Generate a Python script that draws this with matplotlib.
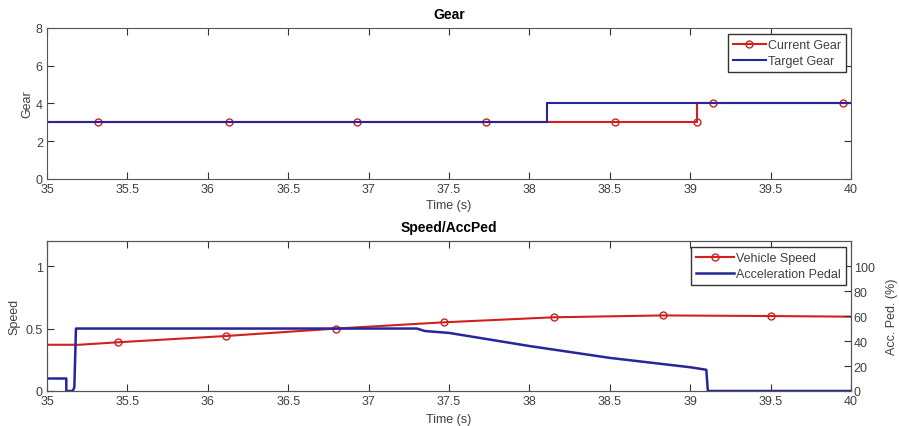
import matplotlib.pyplot as plt

plt.rcParams['font.family'] = ['Liberation Sans', 'DejaVu Sans']

# Gear data (step signals)
cur_gear_t = [35.0, 39.04, 39.04, 40.0]
cur_gear = [3, 3, 4, 4]
cur_gear_mark_t = [35.32, 36.13, 36.93, 37.73, 38.53, 39.04, 39.14, 39.95]
cur_gear_mark = [3, 3, 3, 3, 3, 3, 4, 4]
tgt_gear_t = [35.0, 38.11, 38.11, 40.0]
tgt_gear = [3, 3, 4, 4]

# Vehicle speed
speed_t = [35.0, 35.2, 35.44, 36.11, 36.8, 37.47, 38.15, 38.83, 39.5, 40.0]
speed = [0.37, 0.37, 0.39, 0.44, 0.50, 0.55, 0.59, 0.605, 0.60, 0.595]
speed_mark_t = [35.44, 36.11, 36.8, 37.47, 38.15, 38.83, 39.5]
speed_mark = [0.39, 0.44, 0.50, 0.55, 0.59, 0.605, 0.60]

# Acceleration pedal (%)
ped_t = [35.0, 35.12, 35.12, 35.16, 35.17, 35.18, 37.3, 37.35, 37.5, 38.0, 38.5, 39.0, 39.1, 39.11, 40.0]
ped = [10, 10, 0, 0, 3, 50, 50, 48, 46.5, 36, 26.5, 19, 17, 0, 0]

red = '#d02020'
blue = '#26269a'
txt = '#404040'
xticks = [35, 35.5, 36, 36.5, 37, 37.5, 38, 38.5, 39, 39.5, 40]
xlabels = ['35', '35.5', '36', '36.5', '37', '37.5', '38', '38.5', '39', '39.5', '40']

fig = plt.figure(figsize=(8.99, 4.27), dpi=100)
ax1 = fig.add_axes([0.0523, 0.5785, 0.8943, 0.3536])
ax2 = fig.add_axes([0.0523, 0.082, 0.8943, 0.351])

# top: gear
ax1.plot(cur_gear_t, cur_gear, color=red, lw=1.5)
ax1.plot(cur_gear_mark_t, cur_gear_mark, 'o', color=red, mfc='none', ms=5, mew=1)
ax1.plot(tgt_gear_t, tgt_gear, color=blue, lw=1.5)
ax1.plot([], [], '-o', color=red, mfc='none', ms=5, lw=1.5, label='Current Gear')
ax1.plot([], [], color=blue, lw=1.5, label='Target Gear')
ax1.set_xlim(35, 40)
ax1.set_ylim(0, 8)
ax1.set_yticks([0, 2, 4, 6, 8])
ax1.set_xticks(xticks)
ax1.set_xticklabels(xlabels)
ax1.set_title('Gear', fontsize=10, fontweight='bold', pad=7)
ax1.set_xlabel('Time (s)', fontsize=9, color=txt, labelpad=3)
ax1.set_ylabel('Gear', fontsize=9, color=txt, labelpad=2)
leg1 = ax1.legend(loc='upper right', bbox_to_anchor=(0.994, 0.96), borderaxespad=0, fontsize=9,
                  fancybox=False, framealpha=1, edgecolor='#333333', borderpad=0.4,
                  handlelength=2.6, handletextpad=0.2, labelspacing=0.35)
for t in leg1.get_texts():
    t.set_color(txt)

# bottom: speed / pedal
ax2.plot(speed_t, speed, color=red, lw=1.5)
ax2.plot(speed_mark_t, speed_mark, 'o', color=red, mfc='none', ms=5, mew=1)
ax2.set_xlim(35, 40)
ax2.set_ylim(0, 1.2)
ax2.set_yticks([0, 0.5, 1])
ax2.set_yticklabels(['0', '0.5', '1'])
ax2.set_xticks(xticks)
ax2.set_xticklabels(xlabels)
ax2.set_title('Speed/AccPed', fontsize=10, fontweight='bold', pad=7)
ax2.set_xlabel('Time (s)', fontsize=9, color=txt, labelpad=4)
ax2.set_ylabel('Speed', fontsize=9, color=txt, labelpad=4)

ax3 = ax2.twinx()
ax3.plot(ped_t, ped, color=blue, lw=1.8)
ax3.set_ylim(0, 120)
ax3.set_yticks([0, 20, 40, 60, 80, 100])
ax3.set_ylabel('Acc. Ped. (%)', fontsize=9, color=txt, labelpad=8)
ax3.set_xlim(35, 40)

ax3.plot([], [], '-o', color=red, mfc='none', ms=5, lw=1.5, label='Vehicle Speed')
ax3.plot([], [], color=blue, lw=1.8, label='Acceleration Pedal')
leg2 = ax3.legend(loc='upper right', bbox_to_anchor=(0.994, 0.96), borderaxespad=0, fontsize=9,
                  fancybox=False, framealpha=1, edgecolor='#333333', borderpad=0.4,
                  handlelength=3.0, handletextpad=0.2, labelspacing=0.35)
for t in leg2.get_texts():
    t.set_color(txt)

for ax in (ax1, ax2, ax3):
    ax.tick_params(direction='in', length=5, labelsize=9, labelcolor=txt, color='#333333', pad=3)
    for s in ax.spines.values():
        s.set_color('#555555')
ax1.tick_params(top=True, right=True)
ax2.tick_params(top=True)
ax3.tick_params(right=True, pad=2)

fig.savefig('out.png', dpi=100)
